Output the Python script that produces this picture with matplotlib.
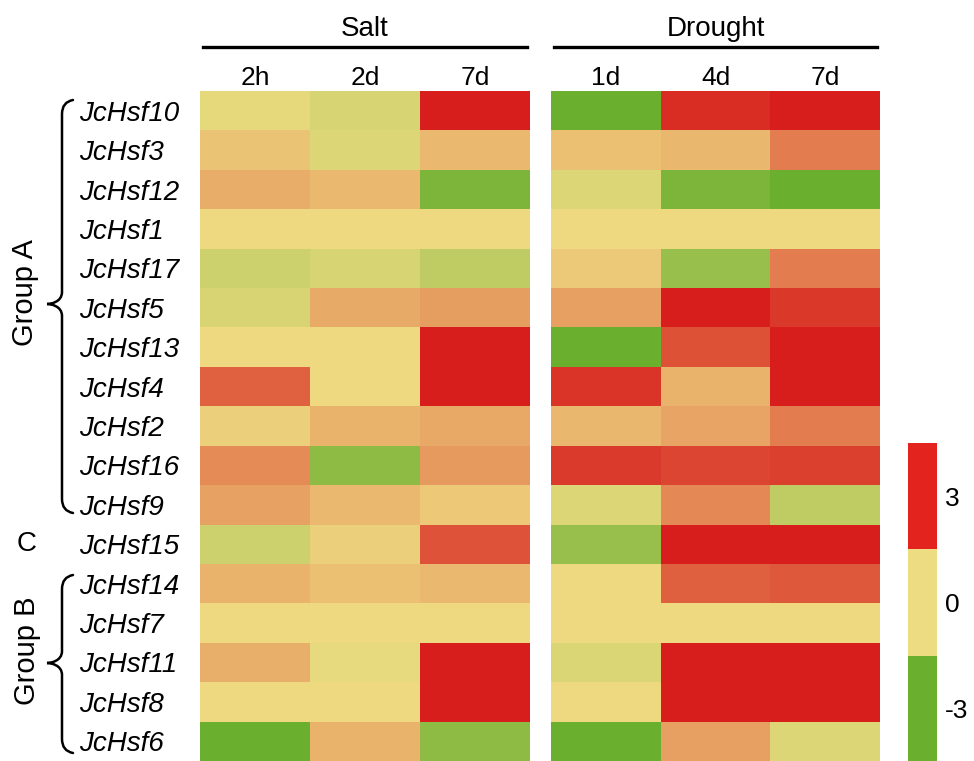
import numpy as np
import matplotlib
matplotlib.use('Agg')
import matplotlib.pyplot as plt
from matplotlib.colors import LinearSegmentedColormap, ListedColormap, BoundaryNorm
from matplotlib.path import Path
from matplotlib.patches import PathPatch
from matplotlib.colorbar import ColorbarBase

plt.rcParams['font.family'] = ['Liberation Sans', 'DejaVu Sans']
plt.rcParams['axes.unicode_minus'] = False

genes = ['JcHsf10', 'JcHsf3', 'JcHsf12', 'JcHsf1', 'JcHsf17', 'JcHsf5', 'JcHsf13',
         'JcHsf4', 'JcHsf2', 'JcHsf16', 'JcHsf9', 'JcHsf15', 'JcHsf14', 'JcHsf7',
         'JcHsf11', 'JcHsf8', 'JcHsf6']
salt_times = ['2h', '2d', '7d']
drought_times = ['1d', '4d', '7d']

# log2 fold change, one row per gene
salt_vals = [
    [-0.2, -0.55, 3.2],
    [0.38, -0.4, 0.55],
    [0.74, 0.55, -2.6],
    [0.05, 0.05, 0.05],
    [-0.73, -0.55, -1.1],
    [-0.5, 0.79, 1.0],
    [0.05, 0.05, 3.2],
    [1.93, 0.05, 3.2],
    [0.2, 0.65, 0.8],
    [1.28, -2.2, 1.04],
    [0.93, 0.55, 0.32],
    [-0.75, 0.2, 2.16],
    [0.65, 0.44, 0.55],
    [0.05, 0.05, 0.05],
    [0.72, -0.15, 3.2],
    [0.05, 0.05, 3.2],
    [-3.2, 0.65, -2.2],
]
drought_vals = [
    [-3.2, 2.75, 3.2],
    [0.43, 0.57, 1.48],
    [-0.4, -2.6, -3.2],
    [0.05, 0.05, 0.05],
    [0.3, -1.95, 1.48],
    [0.96, 3.2, 2.56],
    [-3.2, 2.18, 3.2],
    [2.65, 0.65, 3.2],
    [0.57, 0.87, 1.48],
    [2.54, 2.38, 2.45],
    [-0.4, 1.33, -1.1],
    [-1.95, 3.2, 3.2],
    [0.05, 1.96, 2.08],
    [0.05, 0.05, 0.05],
    [-0.45, 3.2, 3.2],
    [0.05, 3.2, 3.2],
    [-3.2, 0.96, -0.4],
]

green, yellow, red = '#6aaf2e', '#eedc82', '#d71e1c'
cmap = LinearSegmentedColormap.from_list('gyr', [green, yellow, red])

W, H = 974, 761
fig = plt.figure(figsize=(W / 100, H / 100), dpi=100)

def px_axes(x0, y0, x1, y1):
    return fig.add_axes([x0 / W, 1 - y1 / H, (x1 - x0) / W, (y1 - y0) / H])

top, bottom = 91, 761
ax_s = px_axes(200, top, 530, bottom)
ax_d = px_axes(551, top, 880, bottom)

for ax, vals, times, title in [(ax_s, salt_vals, salt_times, 'Salt'),
                               (ax_d, drought_vals, drought_times, 'Drought')]:
    ax.pcolormesh(np.array(vals), cmap=cmap, vmin=-3, vmax=3)
    ax.set_xlim(0, 3)
    ax.set_ylim(len(genes), 0)
    ax.xaxis.tick_top()
    ax.set_xticks(np.arange(3) + 0.5)
    ax.set_xticklabels(times, fontsize=19)
    ax.tick_params(axis='x', length=0, pad=1)
    for s in ax.spines.values():
        s.set_visible(False)
    ax.plot([0.01, 0.99], [1.066, 1.066], color='black', lw=2.4,
            transform=ax.transAxes, clip_on=False)
    ax.text(0.5, 1.092, title, fontsize=20, ha='center', va='center',
            transform=ax.transAxes)

ax_s.set_yticks(np.arange(len(genes)) + 0.5)
ax_s.set_yticklabels(genes, fontsize=20, style='italic', ha='left')
ax_s.tick_params(axis='y', length=0, pad=87)
ax_d.set_yticks([])

# three-block colour key
cax = px_axes(908, 443, 937, 762)
key = ColorbarBase(cax, cmap=ListedColormap([green, yellow, '#e3231e']),
                   norm=BoundaryNorm([-4.5, -1.5, 1.5, 4.5], 3),
                   ticks=[-3, 0, 3], orientation='vertical')
key.outline.set_visible(False)
cax.minorticks_off()
cax.tick_params(which='both', length=0, labelsize=19, pad=6)

# group braces drawn in pixel space
ov = fig.add_axes([0, 0, 1, 1])
ov.set_xlim(0, W)
ov.set_ylim(H, 0)
ov.axis('off')

def brace(y0, y1, ytip, x=62, xtip=47, xend=73):
    verts = [(xend, y0), (x, y0 + 2), (x, y0 + 14),
             (x, ytip - 12),
             (x, ytip - 2), (xtip + 4, ytip), (xtip, ytip),
             (xtip + 4, ytip), (x, ytip + 2), (x, ytip + 12),
             (x, y1 - 14),
             (x, y1 - 2), (xend, y1)]
    codes = [Path.MOVETO, Path.CURVE3, Path.CURVE3, Path.LINETO,
             Path.CURVE4, Path.CURVE4, Path.CURVE4,
             Path.CURVE4, Path.CURVE4, Path.CURVE4,
             Path.LINETO, Path.CURVE3, Path.CURVE3]
    ov.add_patch(PathPatch(Path(verts, codes), fill=False, lw=1.8,
                           edgecolor='black', capstyle='round'))

brace(100, 513, 304)
brace(575, 753, 663)
ov.text(25, 293, 'Group A', fontsize=21, rotation=90, ha='center', va='center')
ov.text(27, 544, 'C', fontsize=20, ha='center', va='center')
ov.text(27, 651, 'Group B', fontsize=21, rotation=90, ha='center', va='center')

fig.savefig('out.png', dpi=100)
